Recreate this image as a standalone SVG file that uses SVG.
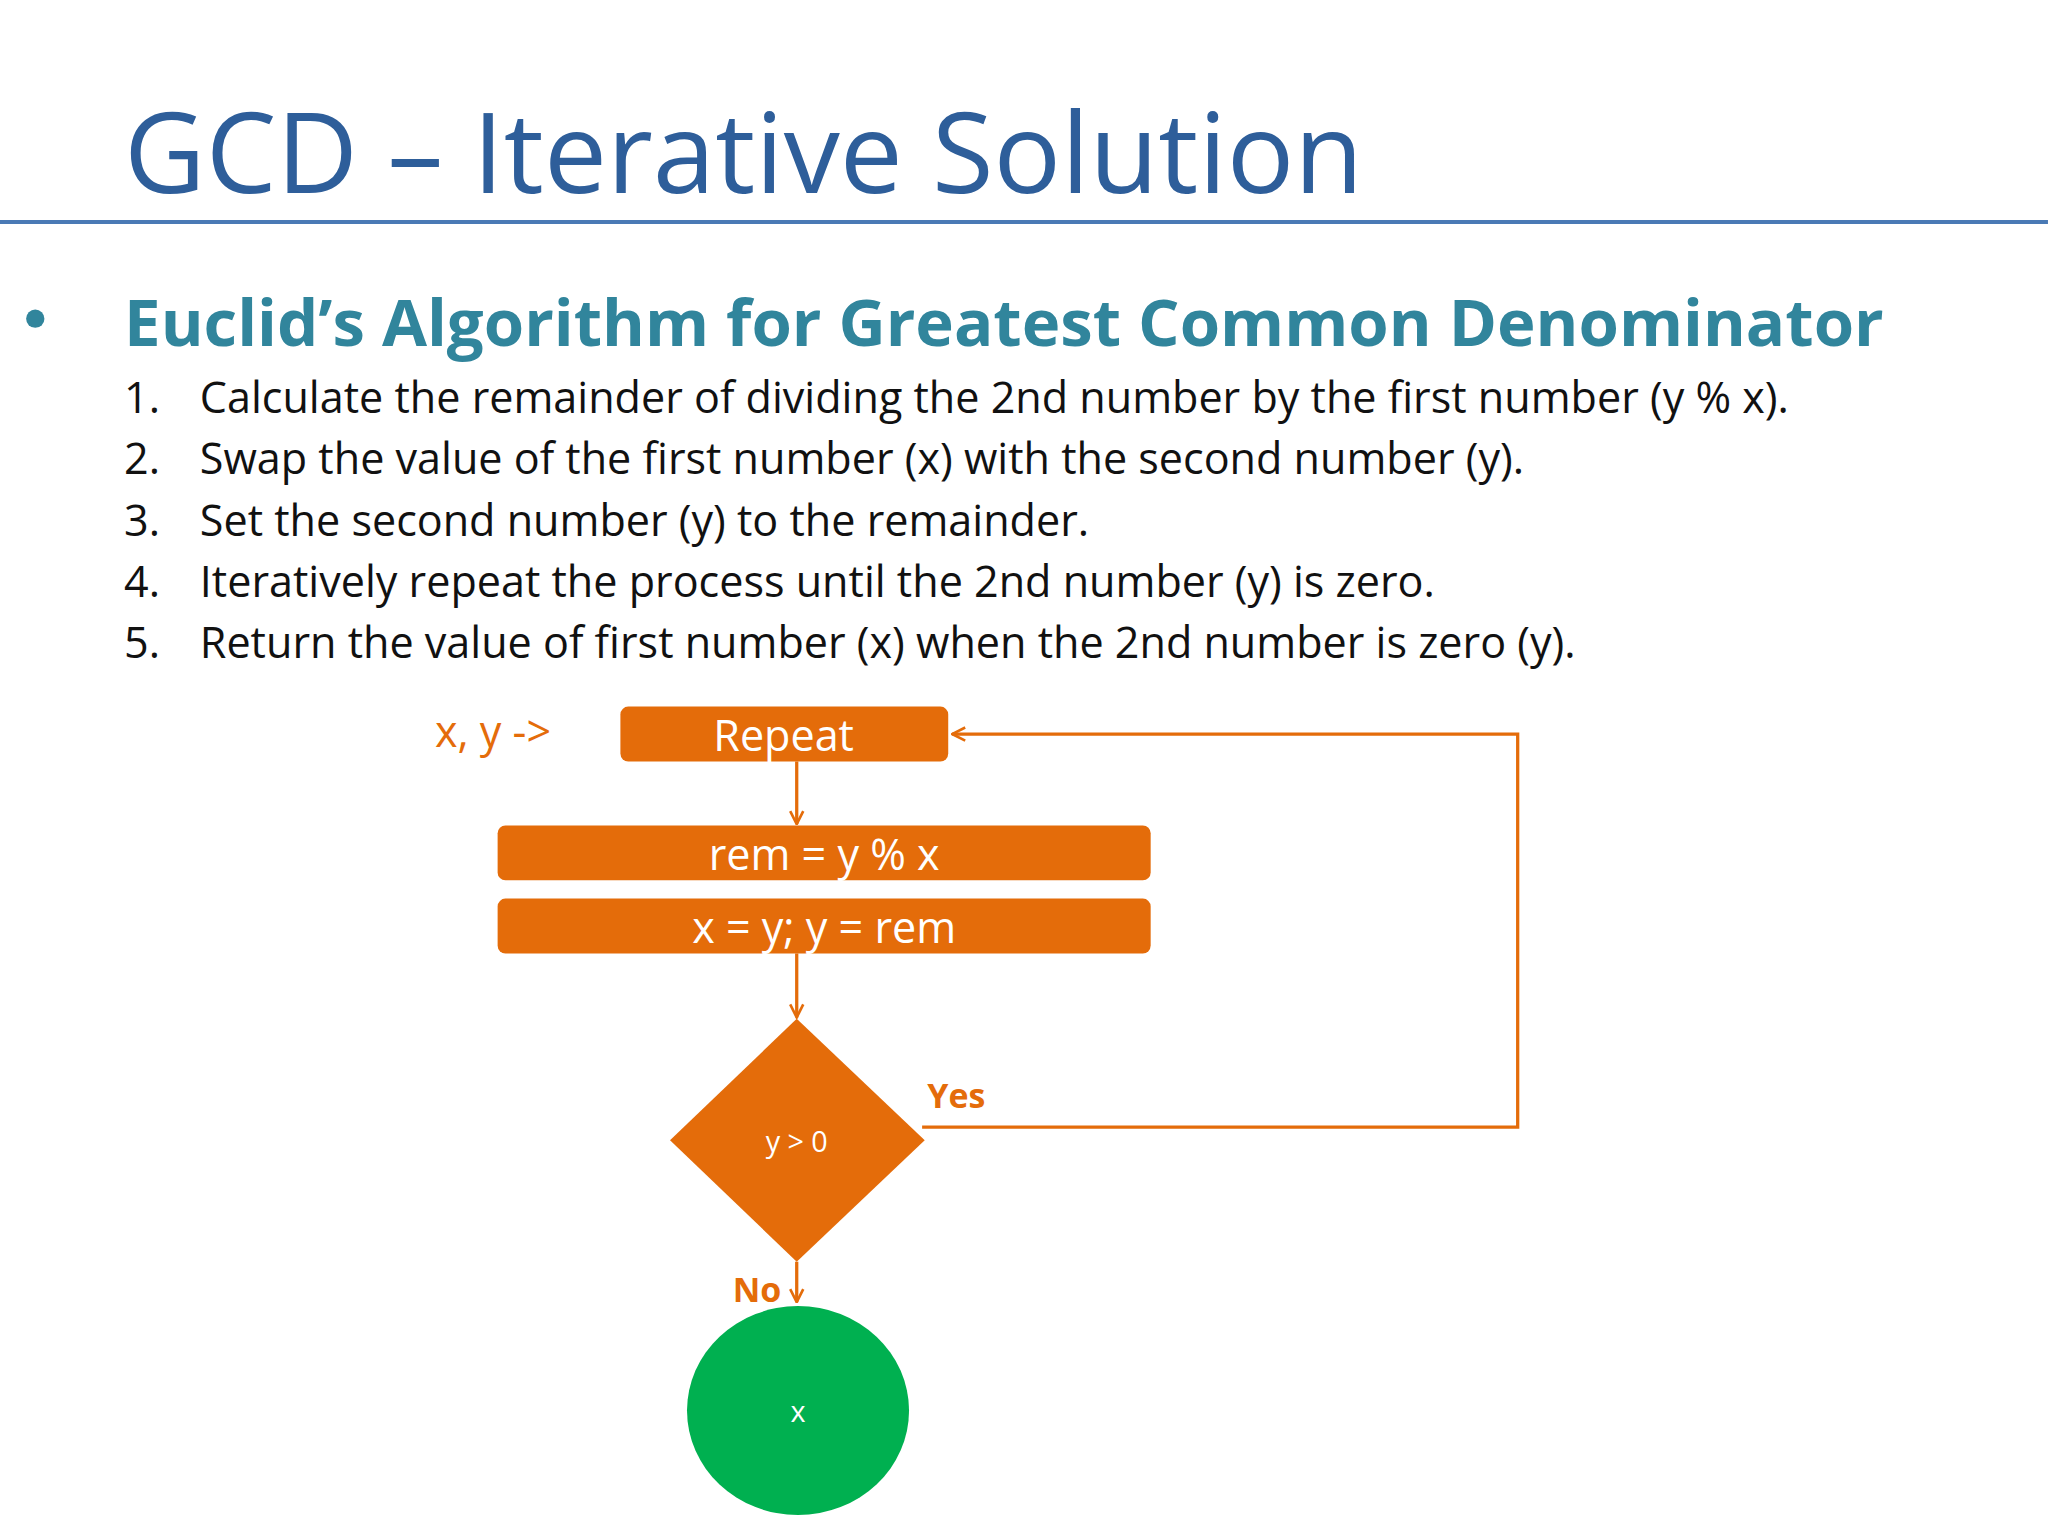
<svg xmlns="http://www.w3.org/2000/svg" width="2048" height="1536" viewBox="0 0 2048 1536">
<style>
text{font-family:"Open Sans","Liberation Sans",sans-serif}
.body{font-size:33px;fill:#111}
.box{fill:#e46c0a}
.bt{font-size:33px;fill:#fff;text-anchor:middle}
.con{fill:none;stroke:#e46c0a;stroke-width:2.5}
.lab{font-size:26px;font-weight:bold;fill:#e46c0a}
</style>
<defs>
<marker id="ah" viewBox="0 0 12 12" refX="11" refY="6" markerWidth="12" markerHeight="12" markerUnits="userSpaceOnUse" orient="auto">
<path d="M1,1 L11,6 L1,11" fill="none" stroke="#e46c0a" stroke-width="2"/>
</marker>
</defs>
<rect width="2048" height="1536" fill="#fff"/>
<g transform="scale(1.3061)">
<g id="title">
<text x="95" y="148" font-size="86" fill="#2e5e9a">GCD – Iterative Solution</text>
<line x1="0" y1="170" x2="1568" y2="170" stroke="#4a7ab5" stroke-width="3"/>
</g>
<g id="text">
<circle cx="27" cy="244" r="7" fill="#31859c"/>
<text x="95" y="265" font-size="50" font-weight="bold" fill="#31859c">Euclid’s Algorithm for Greatest Common Denominator</text>
<text class="body" x="95" y="316">1.</text><text class="body" x="153" y="316">Calculate the remainder of dividing the 2nd number by the first number (y % x).</text>
<text class="body" x="95" y="363">2.</text><text class="body" x="153" y="363">Swap the value of the first number (x) with the second number (y).</text>
<text class="body" x="95" y="410">3.</text><text class="body" x="153" y="410">Set the second number (y) to the remainder.</text>
<text class="body" x="95" y="457">4.</text><text class="body" x="153" y="457">Iteratively repeat the process until the 2nd number (y) is zero.</text>
<text class="body" x="95" y="504">5.</text><text class="body" x="153" y="504">Return the value of first number (x) when the 2nd number is zero (y).</text>
<text x="333" y="572" font-size="33" fill="#e46c0a">x, y -&gt;</text>
</g>
<g id="connectors">
<line class="con" x1="610" y1="583" x2="610" y2="631" marker-end="url(#ah)"/>
<line class="con" x1="610" y1="730" x2="610" y2="779" marker-end="url(#ah)"/>
<polyline class="con" points="706,863 1162,863 1162,562 729,562" marker-end="url(#ah)"/>
<line class="con" x1="610" y1="966" x2="610" y2="997" marker-end="url(#ah)"/>
<text class="lab" x="710" y="848">Yes</text>
<text class="lab" x="561" y="997">No</text>
</g>
<g id="repeat"><rect class="box" x="475" y="541" width="251" height="42" rx="6"/><text class="bt" x="600" y="575">Repeat</text></g>
<g id="rem"><rect class="box" x="381" y="632" width="500" height="42" rx="6"/><text class="bt" x="631" y="666">rem = y % x</text></g>
<g id="swap"><rect class="box" x="381" y="688" width="500" height="42" rx="6"/><text class="bt" x="631" y="722">x = y; y = rem</text></g>
<g id="cond"><polygon class="box" points="610,780 708,873 610,966 513,873"/><text x="610" y="882" font-size="22" fill="#fff" text-anchor="middle">y &gt; 0</text></g>
<g id="result"><ellipse cx="611" cy="1080" rx="85" ry="80" fill="#00b050"/><text x="611" y="1089" font-size="22" fill="#fff" text-anchor="middle">x</text></g>
</g>
</svg>
